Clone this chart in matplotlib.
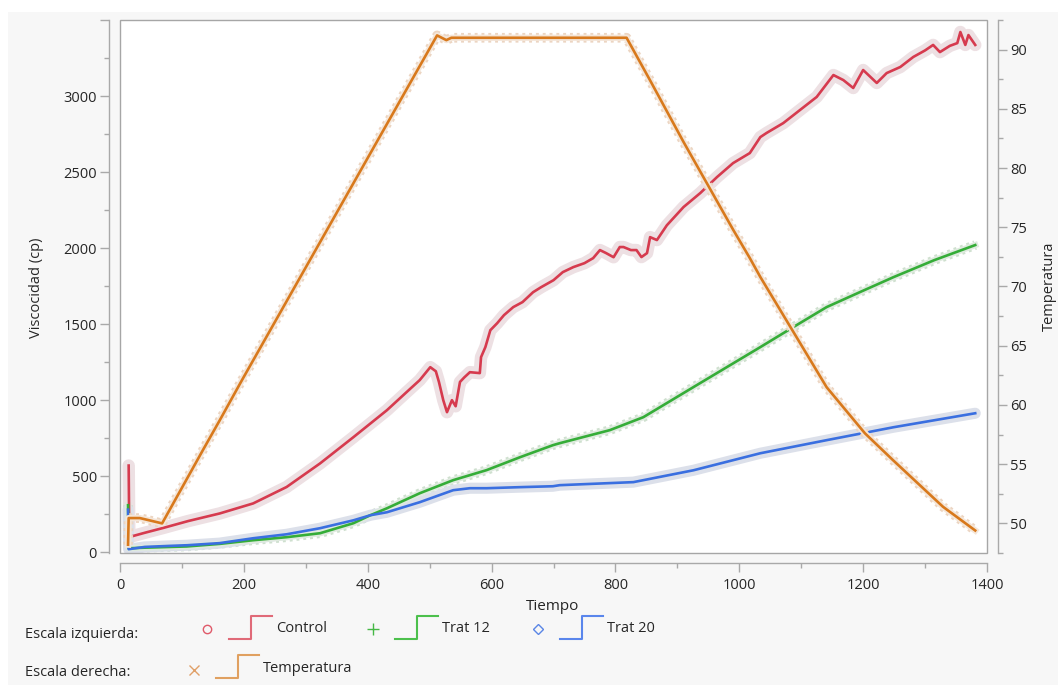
import matplotlib
matplotlib.use('Agg')
import matplotlib.pyplot as plt
from matplotlib.patches import Rectangle
from matplotlib.lines import Line2D
from matplotlib.ticker import MultipleLocator, FixedLocator

plt.rcParams['font.family'] = ['Open Sans', 'DejaVu Sans']

# ---------------- data ----------------
ctrl_t = [14, 15, 40, 70, 110, 161, 215, 269, 323, 377, 431, 470, 484, 501, 510, 515, 522, 528,
          536, 542, 549, 556, 565, 581, 583, 590, 598, 609, 620, 635, 650, 667, 680, 700, 715,
          732, 750, 764, 775, 785, 797, 807, 813, 825, 834, 842, 851, 856, 867, 883, 910, 937,
          964, 990, 1017, 1034, 1044, 1071, 1098, 1125, 1152, 1168, 1184, 1200, 1222, 1238,
          1260, 1281, 1300, 1313, 1324, 1340, 1352, 1357, 1365, 1370, 1381]
ctrl_v = [570, 100, 128, 160, 205, 255, 321, 429, 584, 757, 934, 1080, 1132, 1217, 1190, 1120,
          1000, 921, 1000, 960, 1120, 1150, 1184, 1178, 1283, 1349, 1460, 1506, 1559, 1612, 1645,
          1710, 1743, 1789, 1842, 1875, 1901, 1934, 1987, 1967, 1940, 2007, 2007, 1987, 1987,
          1941, 1967, 2072, 2053, 2150, 2270, 2362, 2467, 2559, 2625, 2730, 2757, 2822, 2908,
          2994, 3138, 3105, 3053, 3171, 3086, 3151, 3191, 3257, 3300, 3336, 3289, 3330, 3348,
          3421, 3336, 3401, 3336]

t12_t = [13, 14, 40, 108, 161, 215, 269, 323, 377, 404, 431, 484, 538, 592, 646, 699, 710,
         791, 845, 926, 1034, 1087, 1141, 1195, 1249, 1315, 1381]
t12_v = [309, 26, 30, 38, 55, 79, 99, 125, 191, 243, 289, 388, 474, 540, 625, 704, 717,
         803, 888, 1086, 1349, 1480, 1612, 1711, 1809, 1921, 2020]

t20_t = [13, 14, 40, 81, 108, 161, 215, 269, 323, 377, 404, 431, 484, 538, 565, 592, 646,
         699, 710, 829, 926, 1034, 1141, 1249, 1381]
t20_v = [280, 20, 35, 42, 46, 60, 92, 118, 158, 210, 243, 263, 329, 408, 421, 421, 428,
         434, 441, 461, 539, 651, 737, 822, 914]

temp_t = [13, 14, 32, 68, 134, 161, 197, 512, 527, 535, 818, 856, 883, 910, 950, 990, 1017,
          1034, 1095, 1141, 1203, 1249, 1329, 1381]
temp_v = [48.2, 50.45, 50.45, 50.0, 56.2, 58.7, 62.1, 91.2, 90.8, 91.0, 91.0, 87.4, 84.8,
          82.2, 78.5, 74.8, 72.4, 70.8, 65.5, 61.5, 57.6, 55.3, 51.4, 49.4]

x_ticks = [0, 200, 400, 600, 800, 1000, 1200, 1400]
yl_ticks = [0, 500, 1000, 1500, 2000, 2500, 3000, 3500]
yl_labels = ['0', '500', '1000', '1500', '2000', '2500', '3000', '']
yr_ticks = [50, 55, 60, 65, 70, 75, 80, 85, 90]

# ---------------- figure ----------------
W, H = 1058, 685
fig = plt.figure(figsize=(W / 100, H / 100), dpi=100, facecolor='white')
fig.patches.append(Rectangle((8 / W, 0), 1, 1 - 12 / H, transform=fig.transFigure,
                             facecolor='#f7f7f7', edgecolor='none', zorder=-10))

ax = fig.add_axes([120 / W, 1 - 553 / H, (987 - 120) / W, (553 - 20) / H])
ax.set_facecolor('white')
ax2 = ax.twinx()

C_RED, C_GRN, C_BLU, C_ORG = '#d63a4e', '#35ad38', '#3a6fe0', '#d8791c'

# halos (pale bands behind each line)
ax.plot(ctrl_t, ctrl_v, color='#ede0e3', lw=9, solid_capstyle='round', solid_joinstyle='round', zorder=1)
ax.plot(t12_t, t12_v, color='#cfe0cf', lw=7, ls=(0, (0.3, 0.4)), zorder=1)
ax.plot(t12_t, t12_v, color='#dfeadf', lw=4.5, zorder=1.5)
ax.plot(t20_t, t20_v, color='#dce0ea', lw=8, solid_capstyle='round', zorder=1)
ax2.plot(temp_t, temp_v, color='#ecd5c2', lw=7, ls=(0, (0.3, 0.4)), zorder=1)
ax2.plot(temp_t, temp_v, color='#f4e6d9', lw=4.5, zorder=1.5)

# main lines
ax.plot(ctrl_t, ctrl_v, color=C_RED, lw=1.9, zorder=3)
ax.plot(t12_t, t12_v, color=C_GRN, lw=1.9, zorder=3)
ax.plot(t20_t, t20_v, color=C_BLU, lw=1.9, zorder=4)
ax2.plot(temp_t, temp_v, color=C_ORG, lw=1.9, zorder=3)

ax.set_xlim(0, 1400)
ax.set_ylim(-5, 3500)
ax2.set_ylim(47.5, 92.5)

SP = '#a9a9a9'
for s in ['top', 'right']:
    ax.spines[s].set_visible(False)
for s in ['top', 'left', 'bottom']:
    ax2.spines[s].set_visible(False)
ax.spines['left'].set_position(('outward', 8))
ax.spines['bottom'].set_position(('outward', 7.2))
ax2.spines['right'].set_position(('outward', 8))
for sp in [ax.spines['left'], ax.spines['bottom'], ax2.spines['right']]:
    sp.set_color(SP)
    sp.set_linewidth(1.0)

ax.add_patch(Rectangle((0, 0), 1, 1, transform=ax.transAxes, fill=False,
                       edgecolor='#a6a6a6', lw=1.0, clip_on=False, zorder=10))

ax.xaxis.set_major_locator(FixedLocator(x_ticks))
ax.xaxis.set_minor_locator(MultipleLocator(100))
ax.set_xticklabels([str(v) for v in x_ticks])
ax.yaxis.set_major_locator(FixedLocator(yl_ticks))
ax.set_yticklabels(yl_labels)
ax.yaxis.set_minor_locator(MultipleLocator(250))
ax2.yaxis.set_major_locator(FixedLocator(yr_ticks))
ax2.set_yticklabels([str(v) for v in yr_ticks])
ax2.yaxis.set_minor_locator(FixedLocator([47.5 + 5 * i for i in range(10)]))

for a in (ax, ax2):
    a.tick_params(which='major', length=6.5, width=1.0, color=SP, labelsize=10.5,
                  labelcolor='#262626', direction='out')
    a.tick_params(which='minor', length=3.5, width=1.0, color=SP, direction='out')
ax.tick_params(axis='y', pad=2)
ax.tick_params(axis='x', pad=4)
ax2.tick_params(axis='y', pad=2)

def fx(x):
    return x / W

def fy(y):
    return 1 - y / H

TXT = '#262626'
fig.text(fx(36), fy(288), 'Viscocidad (cp)', rotation=90, ha='center', va='center', fontsize=10.5, color=TXT)
fig.text(fx(1049), fy(286), 'Temperatura', rotation=90, ha='center', va='center', fontsize=10.5, color=TXT)
fig.text(fx(553), fy(607), 'Tiempo', ha='center', va='center', fontsize=11, color=TXT)

# legend
fig.text(fx(25), fy(634), 'Escala izquierda:', ha='left', va='center', fontsize=10.5, color=TXT)
fig.text(fx(25), fy(672), 'Escala derecha:', ha='left', va='center', fontsize=10.5, color=TXT)

def step_icon(x0, ybot, ytop, color):
    xs = [x0, x0 + 22, x0 + 22, x0 + 43]
    ys = [ybot, ybot, ytop, ytop]
    fig.add_artist(Line2D([fx(v) for v in xs], [fy(v) for v in ys], color=color, lw=1.5,
                          transform=fig.transFigure))

entries = [
    (207, 629, 'o', '#e05a6a', '#e06a78', 'Control', 6, 'none'),
    (373, 629, '+', '#45b845', '#4cc04c', 'Trat 12', 8, None),
    (538, 629, 'D', '#5a86e6', '#5a86ec', 'Trat 20', 5.5, 'none'),
]
for (mx, my, mk, mc, lc, lab, ms, mfc) in entries:
    kw = dict(marker=mk, ms=ms, mec=mc, mew=1.0, ls='none', transform=fig.transFigure)
    if mfc is not None:
        kw['mfc'] = mfc
    fig.add_artist(Line2D([fx(mx)], [fy(my)], **kw))
    step_icon(mx + 22, 639, 616, lc)
    fig.text(fx(mx + 69), fy(629), lab, ha='left', va='center', fontsize=10.5, color=TXT)

fig.add_artist(Line2D([fx(194)], [fy(670)], marker='x', ms=7, mec='#e0a068', mew=1.0,
                      ls='none', transform=fig.transFigure))
step_icon(216, 678, 655, '#e0a060')
fig.text(fx(263), fy(669), 'Temperatura', ha='left', va='center', fontsize=10.5, color=TXT)

fig.savefig('out.png', dpi=100, facecolor=fig.get_facecolor())
